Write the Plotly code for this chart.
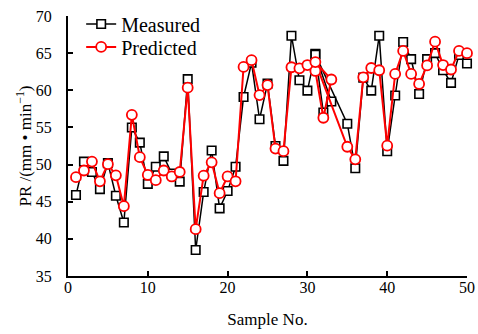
import plotly.graph_objects as go

sample_no = list(range(1, 34)) + [31] + list(range(35, 51))

measured = [45.9, 50.4, 49.0, 46.7, 50.2, 45.8, 42.2, 55.0, 52.95, 47.4,
            49.7, 51.1, 48.8, 47.7, 61.5, 38.5, 46.3, 51.9, 44.1, 46.45,
            49.7, 59.1, 63.7, 56.1, 60.9, 52.5, 50.5, 67.35, 61.35, 59.95,
            64.9, 57.0, 58.5, 64.8, 55.5, 49.5, 61.7, 59.95, 67.35, 51.8,
            59.3, 66.5, 64.2, 59.5, 64.2, 65.0, 62.7, 61.0, 64.75, 63.6]

predicted = [48.3, 49.2, 50.4, 47.75, 50.05, 48.55, 44.4, 56.7, 51.0, 48.6,
             47.9, 49.2, 48.4, 49.0, 60.35, 41.3, 48.5, 50.3, 46.15, 48.4,
             47.75, 63.15, 64.05, 59.35, 60.7, 52.15, 51.8, 63.1, 62.95, 63.4,
             62.6, 56.3, 61.45, 63.8, 52.4, 50.7, 61.75, 63.0, 62.7, 52.55,
             62.2, 65.3, 62.2, 60.85, 63.35, 66.55, 63.4, 62.8, 65.3, 65.0]

x_ticks = [0, 10, 20, 30, 40, 50]
y_ticks = [35, 40, 45, 50, 55, 60, 65, 70]

FONT = "Liberation Serif, Times New Roman, serif"

fig = go.Figure()
fig.add_trace(go.Scatter(
    x=sample_no, y=measured, name="Measured", mode="lines+markers",
    line=dict(color="black", width=1.5),
    marker=dict(symbol="square", size=8.5, color="white",
                line=dict(color="black", width=1.6)),
    cliponaxis=False, legend="legend"))
fig.add_trace(go.Scatter(
    x=sample_no, y=predicted, name="Predicted", mode="lines+markers",
    line=dict(color="#ff0000", width=2),
    marker=dict(symbol="circle", size=10, color="white",
                line=dict(color="#ff0000", width=1.8)),
    cliponaxis=False, legend="legend2"))

leg_common = dict(xanchor="left", yanchor="middle",
                  bgcolor="rgba(0,0,0,0)", font=dict(size=20),
                  itemwidth=30)

fig.update_layout(
    width=478, height=334,
    margin=dict(l=68, r=11, t=16, b=58, autoexpand=False),
    paper_bgcolor="white", plot_bgcolor="white",
    font=dict(family=FONT, size=16, color="black"),
    showlegend=True,
    legend=dict(x=0.033, y=0.969, **leg_common),
    legend2=dict(x=0.033, y=0.881, **leg_common),
    xaxis=dict(range=[0, 50], tickvals=x_ticks, ticks="inside", ticklen=5,
               tickwidth=1.5, tickcolor="black",
               showline=True, linecolor="black", linewidth=2,
               showgrid=False, zeroline=False, automargin=False,
               ticklabelstandoff=-4, ticklabeloverflow="allow",
               title=dict(text="Sample No.", standoff=18, font=dict(size=17)),
               tickfont=dict(size=16)),
    yaxis=dict(range=[35, 70], tickvals=y_ticks, ticks="inside", ticklen=5,
               tickwidth=1.5, tickcolor="black",
               showline=True, linecolor="black", linewidth=2,
               showgrid=False, zeroline=False, automargin=False,
               ticklabelstandoff=11, ticklabeloverflow="allow",
               title=dict(text="PR /(mm • min<sup>−1</sup>)", standoff=0,
                          font=dict(size=17)),
               tickfont=dict(size=16)),
)

fig.write_html("out.html",
               config={"displayModeBar": False},
               post_script="document.body.style.margin='0';"
                           "document.body.style.overflow='hidden';")
